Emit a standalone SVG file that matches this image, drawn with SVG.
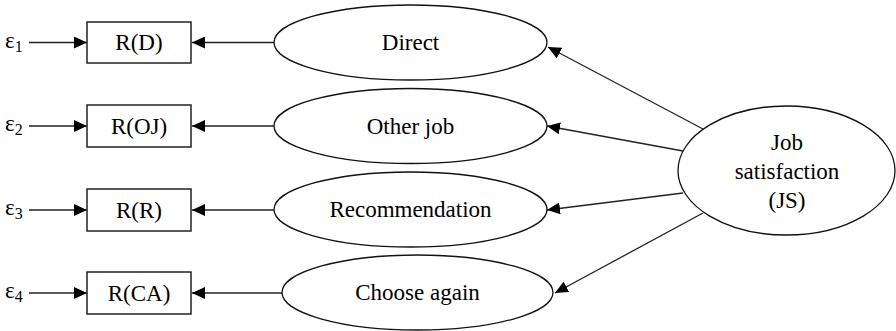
<svg xmlns="http://www.w3.org/2000/svg" width="896" height="331" viewBox="0 0 896 331">
<defs>
<marker id="ah" markerWidth="14" markerHeight="12" refX="13" refY="6" orient="auto" markerUnits="userSpaceOnUse">
<path d="M0,0 L13,6 L0,12 Z" fill="#000"/>
</marker>
</defs>
<rect width="896" height="331" fill="#fff"/>
<g id="connectors" stroke="#222" stroke-width="1.3" fill="none" marker-end="url(#ah)">
<line x1="29" y1="42.5" x2="87" y2="42.5"/>
<line x1="29" y1="126" x2="87" y2="126"/>
<line x1="29" y1="210" x2="87" y2="210"/>
<line x1="29" y1="293" x2="87" y2="293"/>
<line x1="274" y1="42.5" x2="192" y2="42.5"/>
<line x1="274" y1="126" x2="192" y2="126"/>
<line x1="274" y1="210" x2="192" y2="210"/>
<line x1="282" y1="293" x2="192" y2="293"/>
<line x1="703" y1="129" x2="548" y2="47"/>
<line x1="683" y1="151" x2="547" y2="126"/>
<line x1="683" y1="193" x2="547" y2="210"/>
<line x1="703" y1="213" x2="555" y2="293"/>
</g>
<g id="nodes" font-size="23" fill="#000">
<g id="e1"><text font-family="Liberation Serif" x="5" y="48">&#949;<tspan font-size="16" dy="4">1</tspan></text></g>
<g id="e2"><text font-family="Liberation Serif" x="5" y="131">&#949;<tspan font-size="16" dy="4">2</tspan></text></g>
<g id="e3"><text font-family="Liberation Serif" x="5" y="215">&#949;<tspan font-size="16" dy="4">3</tspan></text></g>
<g id="e4"><text font-family="Liberation Serif" x="5" y="298">&#949;<tspan font-size="16" dy="4">4</tspan></text></g>
<g id="RD"><rect x="87" y="22" width="104" height="41" fill="#fff" stroke="#222" stroke-width="1.5"/><text font-family="Liberation Serif" x="139" y="50" text-anchor="middle">R(D)</text></g>
<g id="ROJ"><rect x="87" y="105" width="104" height="42" fill="#fff" stroke="#222" stroke-width="1.5"/><text font-family="Liberation Serif" x="139" y="134" text-anchor="middle">R(OJ)</text></g>
<g id="RR"><rect x="87" y="189" width="104" height="42" fill="#fff" stroke="#222" stroke-width="1.5"/><text font-family="Liberation Serif" x="139" y="218" text-anchor="middle">R(R)</text></g>
<g id="RCA"><rect x="87" y="272" width="104" height="42" fill="#fff" stroke="#222" stroke-width="1.5"/><text font-family="Liberation Serif" x="139" y="301" text-anchor="middle">R(CA)</text></g>
<g id="Direct"><ellipse cx="410.5" cy="42.5" rx="136.5" ry="37.5" fill="#fff" stroke="#111" stroke-width="1.3"/><text font-family="Liberation Serif" x="410.5" y="50" text-anchor="middle">Direct</text></g>
<g id="OtherJob"><ellipse cx="410.5" cy="126" rx="136.5" ry="37.5" fill="#fff" stroke="#111" stroke-width="1.3"/><text font-family="Liberation Serif" x="410.5" y="134" text-anchor="middle">Other job</text></g>
<g id="Recommendation"><ellipse cx="410.5" cy="209.5" rx="136.5" ry="37.5" fill="#fff" stroke="#111" stroke-width="1.3"/><text font-family="Liberation Serif" x="410.5" y="217" text-anchor="middle">Recommendation</text></g>
<g id="ChooseAgain"><ellipse cx="417.5" cy="292.5" rx="135.5" ry="37.5" fill="#fff" stroke="#111" stroke-width="1.3"/><text font-family="Liberation Serif" x="417.5" y="300" text-anchor="middle">Choose again</text></g>
<g id="JS"><ellipse cx="786.5" cy="170.5" rx="108.5" ry="64.5" fill="#fff" stroke="#111" stroke-width="1.3"/>
<text font-family="Liberation Serif" x="787" y="150" text-anchor="middle">Job</text>
<text font-family="Liberation Serif" x="787" y="179" text-anchor="middle">satisfaction</text>
<text font-family="Liberation Serif" x="787" y="208" text-anchor="middle">(JS)</text></g>
</g>
</svg>
